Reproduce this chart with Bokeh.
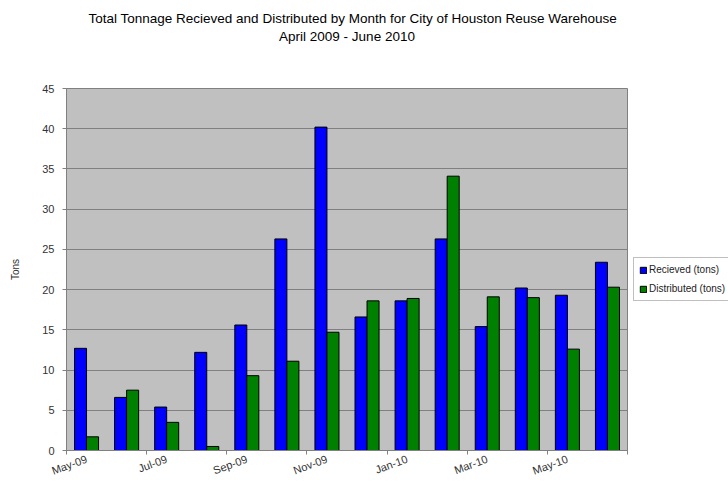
import numpy as np
from bokeh.plotting import figure
from bokeh.layouts import row
from bokeh.models import (Range1d, FixedTicker, SingleIntervalTicker, ColumnDataSource,
                          Legend, LegendItem, Title, LinearAxis)
from bokeh.embed import file_html
from bokeh.resources import INLINE

months = ["May-09", "Jun-09", "Jul-09", "Aug-09", "Sep-09", "Oct-09", "Nov-09",
          "Dec-09", "Jan-10", "Feb-10", "Mar-10", "Apr-10", "May-10", "Jun-10"]
received = [12.7, 6.6, 5.4, 12.2, 15.6, 26.3, 40.2, 16.6, 18.6, 26.3, 15.4, 20.2, 19.3, 23.4]
distributed = [1.7, 7.5, 3.5, 0.5, 9.3, 11.1, 14.7, 18.6, 18.9, 34.1, 19.1, 19.0, 12.6, 20.3]
series_names = ["Recieved (tons)", "Distributed (tons)"]
title_line1 = "Total Tonnage Recieved and Distributed by Month for City of Houston Reuse Warehouse"
title_line2 = "April 2009 - June 2010"
y_label = "Tons"

FONT = "Liberation Sans"
BLUE, GREEN = "#0000FF", "#008000"

idx = np.arange(len(months))
src = ColumnDataSource(dict(xb=idx + 0.35, xg=idx + 0.65, rec=received, dis=distributed))

p = figure(width=628, height=485, output_backend="svg", toolbar_location=None,
           x_range=Range1d(0, len(months)), y_range=Range1d(0, 45),
           min_border_left=66, min_border_right=1, min_border_top=88, min_border_bottom=34)
p.background_fill_color = "#C0C0C0"
p.border_fill_color = "white"
p.outline_line_color = "#808080"
p.outline_line_width = 1
xax = p.below[0]
yax = p.left[0]

# second title line carried by an empty axis above the frame (its standoff sets the gap)
top_axis = LinearAxis(ticker=FixedTicker(ticks=[]), axis_line_color=None,
                      major_tick_line_color=None, minor_tick_line_color=None,
                      major_tick_out=0, major_tick_in=0, minor_tick_out=0, minor_tick_in=0,
                      major_label_standoff=0,
                      axis_label=title_line2, axis_label_standoff=45,
                      axis_label_text_font=FONT, axis_label_text_font_size="13.5px",
                      axis_label_text_font_style="normal", axis_label_text_color="black")
p.add_layout(top_axis, "above")
p.title = Title(text=title_line1, align="left", offset=22, text_font=FONT,
                text_font_size="13.5px", text_font_style="normal", text_color="black",
                standoff=0)

p.vbar(x="xb", top="rec", width=0.3, source=src, fill_color=BLUE, line_color="black", line_width=1)
p.vbar(x="xg", top="dis", width=0.3, source=src, fill_color=GREEN, line_color="black", line_width=1)

# grid
p.xgrid.grid_line_color = None
p.ygrid.grid_line_color = "#808080"
p.ygrid.grid_line_width = 1

# y axis
yax.ticker = SingleIntervalTicker(interval=5)
yax.axis_line_color = "#808080"
yax.major_tick_line_color = "#808080"
yax.major_tick_out = 4
yax.major_tick_in = 0
yax.minor_tick_line_color = None
yax.major_label_text_font = FONT
yax.major_label_text_font_size = "11px"
yax.major_label_text_color = "#333333"
yax.major_label_standoff = 8
yax.axis_label = y_label
yax.axis_label_text_font = FONT
yax.axis_label_text_font_size = "10px"
yax.axis_label_text_font_style = "normal"
yax.axis_label_text_color = "#333333"
yax.axis_label_standoff = 18

# x axis: labels at every second category centre, tick marks at category boundaries
label_pos = [float(i) + 0.5 for i in idx[::2]]
xax.ticker = FixedTicker(ticks=label_pos, minor_ticks=list(range(0, len(months) + 1, 2)))
xax.major_label_overrides = {pos: months[i] for pos, i in zip(label_pos, idx[::2])}
xax.axis_line_color = "#808080"
xax.major_tick_line_color = None
xax.major_tick_out = 0
xax.major_tick_in = 0
xax.minor_tick_line_color = "#808080"
xax.minor_tick_out = 4
xax.minor_tick_in = 0
xax.major_label_orientation = 0.35
xax.major_label_standoff = 4
xax.major_label_text_font = FONT
xax.major_label_text_font_size = "11px"
xax.major_label_text_color = "#333333"

# legend panel to the right of the plot area; hidden proxy renderers carry the series styles
pl = figure(width=100, height=485, output_backend="svg", toolbar_location=None,
            x_range=Range1d(0, 1), y_range=Range1d(0, 1), x_axis_type=None, y_axis_type=None,
            min_border=0, min_border_left=0, min_border_right=0, min_border_top=0,
            min_border_bottom=0)
pl.outline_line_color = None
pl.background_fill_color = "white"
pl.border_fill_color = "white"
lb = pl.vbar(x="xb", top="rec", width=0.3, source=src, fill_color=BLUE, line_color="black",
             visible=False)
lg = pl.vbar(x="xg", top="dis", width=0.3, source=src, fill_color=GREEN, line_color="black",
             visible=False)

legend = Legend(items=[LegendItem(label=series_names[0], renderers=[lb]),
                       LegendItem(label=series_names[1], renderers=[lg])],
                location=(5, 149), orientation="vertical")
legend.label_text_font = FONT
legend.label_text_font_size = "10px"
legend.label_text_color = "#222222"
legend.glyph_width = 8
legend.glyph_height = 8
legend.label_standoff = 2
legend.label_height = 13
legend.padding = 5
legend.spacing = 6
legend.margin = 0
legend.border_line_color = "#808080"
legend.border_line_width = 1
legend.background_fill_color = "white"
legend.background_fill_alpha = 1
legend.inactive_fill_alpha = 0
pl.add_layout(legend, "center")

layout = row(p, pl)
open("out.html", "w").write(file_html(layout, INLINE))
